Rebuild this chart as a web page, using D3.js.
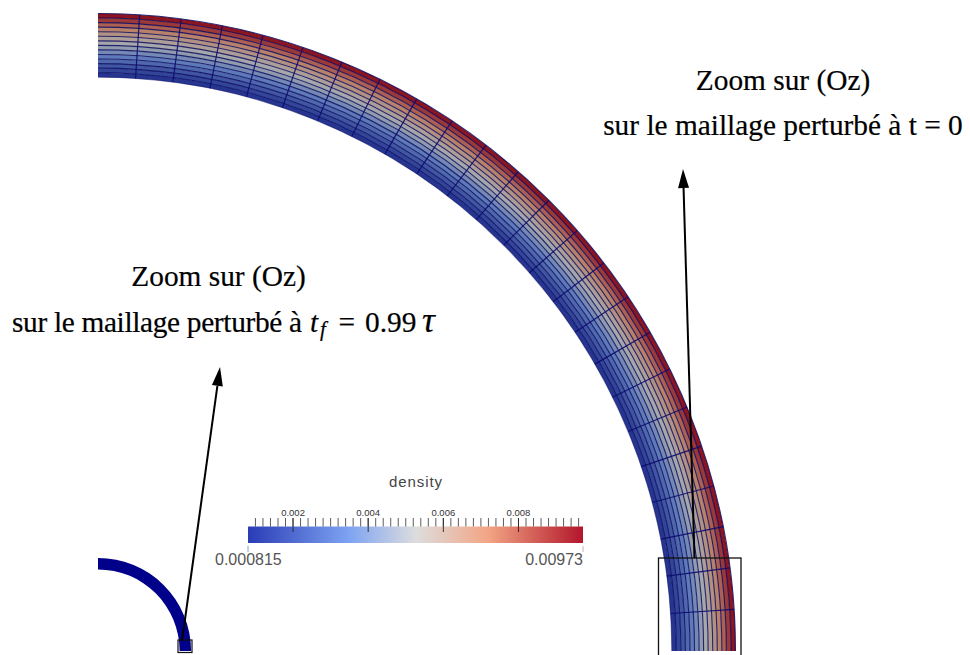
<!DOCTYPE html>
<html><head><meta charset="utf-8">
<script src="https://cdn.jsdelivr.net/npm/d3@7/dist/d3.min.js"></script>
<style>html,body{margin:0;background:#fff}svg{display:block}</style></head>
<body><svg id="c" width="970" height="655"></svg>
<script>
// DATA
const layerDensity=[0.0011,0.0016,0.0022,0.0028,0.0034,0.0040,0.0047,0.0052,0.0058,0.0064,0.0071,0.0079,0.0088,0.0097];
const meshRadii=[0.9,0.9071,0.9143,0.9214,0.9286,0.9357,0.9429,0.95,0.9571,0.9643,0.9714,0.9786,0.9857,0.9929,1.0];
const spokeCount=[0,1,2,3,4,5,6,7,8,9,10,11,12,13,14,15,16,17,18,19,20,21,22,23,24];
const smallRing=[0.128,0.146];
const colorDomain=[0.000815,0.0035,0.0053,0.0072,0.00973];
const colorRange=["#2a3cb6","#7ea3f2","#dddddd","#f2a585","#b3162a"];
const minorTicks=[0.001,0.0012,0.0014,0.0016,0.0018,0.002,0.0022,0.0024,0.0026,0.0028,0.003,0.0032,0.0034,0.0036,0.0038,0.004,0.0042,0.0044,0.0046,0.0048,0.005,0.0052,0.0054,0.0056,0.0058,0.006,0.0062,0.0064,0.0066,0.0068,0.007,0.0072,0.0074,0.0076,0.0078,0.008,0.0082,0.0084,0.0086,0.0088,0.009,0.0092,0.0094,0.0096];
const majorTicks=[0.002,0.004,0.006,0.008];
const rangeLabels=["0.000815","0.00973"];

const svg=d3.select("#c");
const defs=svg.append("defs");
defs.append("filter").attr("id","soft").append("feGaussianBlur").attr("stdDeviation",0.4);

const cx=98,cy=651;
const r=d3.scaleLinear().domain([0,1]).range([0,637.5]);
const ang=d3.scaleLinear().domain([0,24]).range([0,Math.PI/2]);
const color=d3.scaleLinear().domain(colorDomain).range(colorRange).interpolate(d3.interpolateRgb);
const shade=d=>d3.rgb(color(d)).darker(0.75);

// Large ring
const ring=svg.append("g").attr("transform",`translate(${cx},${cy})`).attr("filter","url(#soft)");
const arc=d3.arc();
ring.selectAll("path.layer").data(layerDensity).join("path").attr("class","layer")
  .attr("d",(d,i)=>arc({innerRadius:r(meshRadii[i]),outerRadius:r(meshRadii[i+1]),startAngle:0,endAngle:Math.PI/2}))
  .attr("fill",d=>shade(d));
ring.selectAll("path.rad").data(meshRadii).join("path").attr("class","rad")
  .attr("d",d=>arc({innerRadius:r(d),outerRadius:r(d),startAngle:0,endAngle:Math.PI/2}))
  .attr("fill","none").attr("stroke","#0c0c60").attr("stroke-opacity",(d,i)=>(i==0)?0.4:0.85).attr("stroke-width",1.1);
const radial=d3.lineRadial().radius(d=>d[0]).angle(d=>d[1]);
ring.selectAll("path.spoke").data(spokeCount.slice(1,-1)).join("path").attr("class","spoke")
  .attr("d",d=>radial([[r(0.9),ang(d)],[r(1),ang(d)]]))
  .attr("fill","none").attr("stroke","#0c0c70").attr("stroke-opacity",0.9).attr("stroke-width",1.2);

// Small ring
svg.append("g").attr("transform",`translate(${cx},${cy})`).attr("filter","url(#soft)")
  .append("path").attr("d",arc({innerRadius:r(smallRing[0]),outerRadius:r(smallRing[1]),startAngle:0,endAngle:Math.PI/2}))
  .attr("fill","#00008b");

// Boxes
svg.append("rect").attr("x",658.5).attr("y",558).attr("width",82.5).attr("height",110).attr("fill","none").attr("stroke","#111").attr("stroke-width",1.3);
svg.append("rect").attr("x",178).attr("y",640).attr("width",14).attr("height",12.5).attr("fill","none").attr("stroke","#111").attr("stroke-width",1.2);

// Arrows
function arrow(x1,y1,x2,y2){
  const a=Math.atan2(y2-y1,x2-x1),L=19,W=5.5;
  const bx=x2-L*Math.cos(a),by=y2-L*Math.sin(a);
  svg.append("line").attr("x1",x1).attr("y1",y1).attr("x2",bx).attr("y2",by).attr("stroke","#000").attr("stroke-width",2);
  svg.append("path").attr("d",d3.line()([[x2,y2],[bx-W*Math.sin(a),by+W*Math.cos(a)],[bx+W*Math.sin(a),by-W*Math.cos(a)]])+"Z").attr("fill","#000");
}
arrow(694.5,558,683,169);
arrow(182,641,220,367);

// Annotations
const serif="'Liberation Serif',serif";
const FS=29.35;
function styled(s){return s.attr("font-family",serif).attr("font-size",FS).attr("fill","#000").attr("stroke","#000").attr("stroke-width",0.2);}
function label(x,y,t){return styled(svg.append("text").attr("x",x).attr("y",y).attr("text-anchor","middle")).text(t);}
label(783,90,"Zoom sur (Oz)");
label(783,135,"sur le maillage perturbé à t = 0");
label(218.5,286,"Zoom sur (Oz)");
function piece(x,y,t,it,fs){const s=styled(svg.append("text").attr("x",x).attr("y",y)).text(t);if(it)s.attr("font-style","italic");if(fs)s.attr("font-size",fs);return s;}
piece(12,332,"sur le maillage perturbé à",false).attr("textLength",290).attr("lengthAdjust","spacing");
piece(310,332,"t",true);
piece(320,336,"f",true,21);
piece(338.5,332,"=",false);
piece(365,332,"0.99",false);
piece(422,332,"τ",true,36);

// Legend
const lx=d3.scaleLinear().domain([0.000815,0.00973]).range([248,583]);
const grad=defs.append("linearGradient").attr("id","cm");
colorDomain.forEach((d,i)=>grad.append("stop").attr("offset",(lx(d)-248)/335).attr("stop-color",colorRange[i]));
svg.append("rect").attr("x",248).attr("y",526.5).attr("width",335).attr("height",16.5).attr("fill","url(#cm)");
const sans="'Liberation Sans',sans-serif";
svg.append("text").attr("x",416).attr("y",487).attr("text-anchor","middle").attr("font-family",sans).attr("font-size",15).attr("letter-spacing",0.9).attr("fill","#444").text("density");
const minor=svg.append("g").attr("transform","translate(0,526.5)").call(d3.axisTop(lx).tickValues(minorTicks).tickSize(8.5).tickFormat(""));
minor.select(".domain").remove();
minor.selectAll("line").attr("stroke","#333").attr("stroke-width",0.8);
const major=svg.append("g").attr("transform","translate(0,532)").call(d3.axisTop(lx).tickValues(majorTicks).tickSize(14).tickFormat(d3.format(".3f")));
major.select(".domain").remove();
major.selectAll("line").attr("stroke","#222").attr("stroke-width",0.9);
major.selectAll("text").attr("y",-16).attr("dy",0).attr("font-family",sans).attr("font-size",9.5).attr("fill","#333");
// End marks and range labels
const ends=lx.domain();
svg.selectAll("line.end").data(ends).join("line").attr("class","end").attr("x1",d=>lx(d)).attr("x2",d=>lx(d)).attr("y1",546).attr("y2",552).attr("stroke",(d,i)=>i?"#d8a8b0":"#8898cc");
svg.selectAll("text.end").data(rangeLabels).join("text").attr("class","end")
  .attr("x",(d,i)=>i?583:215).attr("y",565).attr("text-anchor",(d,i)=>i?"end":"start")
  .attr("font-family",sans).attr("font-size",16).attr("fill","#555").text(d=>d);
</script></body></html>
